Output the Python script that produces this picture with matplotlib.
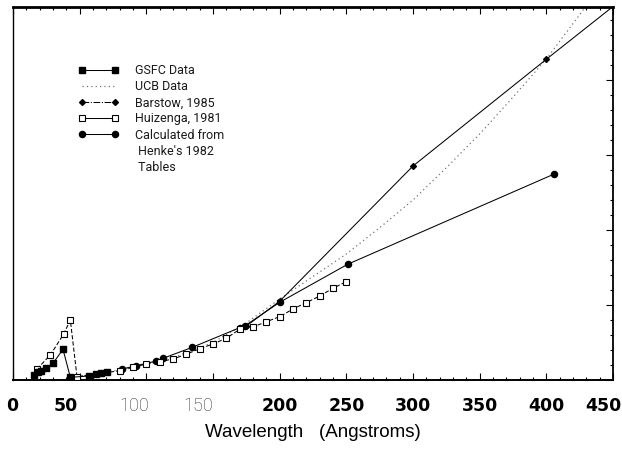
import matplotlib
matplotlib.use('Agg')
import matplotlib.pyplot as plt
from matplotlib.lines import Line2D
from matplotlib.ticker import MultipleLocator
import matplotlib.transforms as mtransforms

# ---------------- data ----------------
gsfc_x = [15.5, 19, 21.3, 25, 30, 37.5, 43, 57, 62.5, 66.3, 70.5]
gsfc_y = [0.067, 0.111, 0.124, 0.156, 0.223, 0.409, 0.036, 0.053, 0.080, 0.097, 0.111]

ucb_x = [50, 75, 100, 125, 150, 175, 200, 225, 250, 275, 300, 325, 350, 375, 400, 425, 440]
ucb_y = [0.05, 0.12, 0.21, 0.33, 0.50, 0.76, 1.08, 1.38, 1.68, 2.03, 2.40, 2.83, 3.28, 3.77, 4.28, 4.87, 5.23]

barstow_x = [175, 200, 300, 400, 460]
barstow_y = [0.72, 1.05, 2.853, 4.276, 5.12]

huiz_x = [18, 28, 38, 43, 48, 80, 90, 100, 110, 120, 130, 140, 150, 160, 170, 180,
          190, 200, 210, 220, 230, 240, 250]
huiz_y = [0.147, 0.333, 0.613, 0.80, 0.044, 0.124, 0.169, 0.213, 0.244, 0.28, 0.343,
          0.417, 0.48, 0.556, 0.676, 0.707, 0.777, 0.844, 0.947, 1.031, 1.12, 1.223, 1.311]

henke_x = [82, 92.5, 107.5, 112.5, 134.5, 170, 173.8, 200, 251, 406]
henke_y = [0.147, 0.191, 0.253, 0.289, 0.436, 0.697, 0.72, 1.036, 1.543, 2.747]

xtick_values = [0, 50, 100, 150, 200, 250, 300, 350, 400, 450]
xtick_labels = ['0', '50', '100', '150', '200', '250', '300', '350', '400', '450']

legend_labels = ['GSFC Data', 'UCB Data', 'Barstow, 1985', 'Huizenga, 1981',
                 'Calculated from', " Henke's 1982", ' Tables']
xlabel_text = 'Wavelength   (Angstroms)'

# ---------------- figure ----------------
fig = plt.figure(figsize=(6.22, 4.59), dpi=100)
ax = fig.add_axes([13 / 622, 79 / 459, 600 / 622, 373 / 459])

lw = 0.75
ax.plot(ucb_x, ucb_y, color='0.45', lw=0.9, ls=(0, (1, 2.5)), zorder=2)
ax.plot(barstow_x, barstow_y, color='k', lw=lw, marker='D', ms=3.0,
        mfc='k', mec='k', zorder=3)
ax.plot(henke_x, henke_y, color='k', lw=lw, marker='o', ms=4.4,
        mfc='k', mec='k', zorder=4)
ax.plot(huiz_x, huiz_y, color='k', lw=lw, ls=(0, (4, 2)), marker='s', ms=4.5,
        mfc='white', mec='k', mew=0.8, zorder=5)
ax.plot(gsfc_x, gsfc_y, color='k', lw=lw, marker='s', ms=4.2,
        mfc='k', mec='k', zorder=6)

ax.set_xlim(0, 450)
ax.set_ylim(0, 4.973)

# spines
ax.spines['top'].set_linewidth(2.0)
ax.spines['left'].set_linewidth(1.0)
ax.spines['right'].set_linewidth(1.3)
ax.spines['bottom'].set_linewidth(1.4)

# ticks
ax.set_xticks(xtick_values)
ax.xaxis.set_minor_locator(MultipleLocator(10))
ax.yaxis.set_major_locator(MultipleLocator(1))
ax.yaxis.set_minor_locator(MultipleLocator(0.2))
ax.tick_params(axis='x', which='both', direction='in', top=True, bottom=True,
               labeltop=False, width=0.8)
ax.tick_params(axis='x', which='major', length=5, pad=12)
ax.tick_params(axis='x', which='minor', length=2.5)
ax.tick_params(axis='y', which='both', direction='in', left=False, right=True,
               labelleft=False, labelright=False, width=0.8)
ax.tick_params(axis='y', which='major', length=5)
ax.tick_params(axis='y', which='minor', length=2.5)

ax.set_xticklabels(xtick_labels)
label_dx = [-1, -14, -12, -15, 0, 0, 0, 0, 0, -10]   # pixel offsets of labels
light_labels = {'100', '150'}
for lab, dx in zip(ax.get_xticklabels(), label_dx):
    if lab.get_text() in light_labels:
        lab.set_fontfamily(['Roboto', 'Lato', 'DejaVu Sans'])
        lab.set_fontweight('light')
        lab.set_fontsize(13)
        lab.set_color('0.2')
    else:
        lab.set_fontfamily('DejaVu Sans')
        lab.set_fontweight('bold')
        lab.set_fontsize(12.5)
    off = mtransforms.ScaledTranslation(dx / 100, 0, fig.dpi_scale_trans)
    lab.set_transform(lab.get_transform() + off)

ax.set_xlabel(xlabel_text, fontsize=13.5, family='Liberation Sans', labelpad=7)

# legend
handles = [
    Line2D([], [], color='k', lw=lw, marker='s', ms=4.2, mfc='k', mec='k'),
    Line2D([], [], color='0.45', lw=0.9, ls=(0, (1, 2.5))),
    Line2D([], [], color='k', lw=lw, ls='-.', marker='D', ms=3.0, mfc='k', mec='k'),
    Line2D([], [], color='k', lw=lw, marker='s', ms=4.0, mfc='white', mec='k', mew=0.8),
    Line2D([], [], color='k', lw=lw, marker='o', ms=4.4, mfc='k', mec='k'),
    Line2D([], [], ls='none'),
    Line2D([], [], ls='none'),
]
leg = ax.legend(handles, legend_labels, loc='upper left', bbox_to_anchor=(0.108, 0.847),
                frameon=False, numpoints=2, handlelength=3.3, handletextpad=1.3,
                labelspacing=0.25, borderpad=0, borderaxespad=0,
                prop={'family': ['Roboto', 'Lato', 'DejaVu Sans'], 'weight': 'normal',
                      'size': 9})
for t in leg.get_texts():
    t.set_color('0.1')

fig.savefig('out.png', dpi=100)
